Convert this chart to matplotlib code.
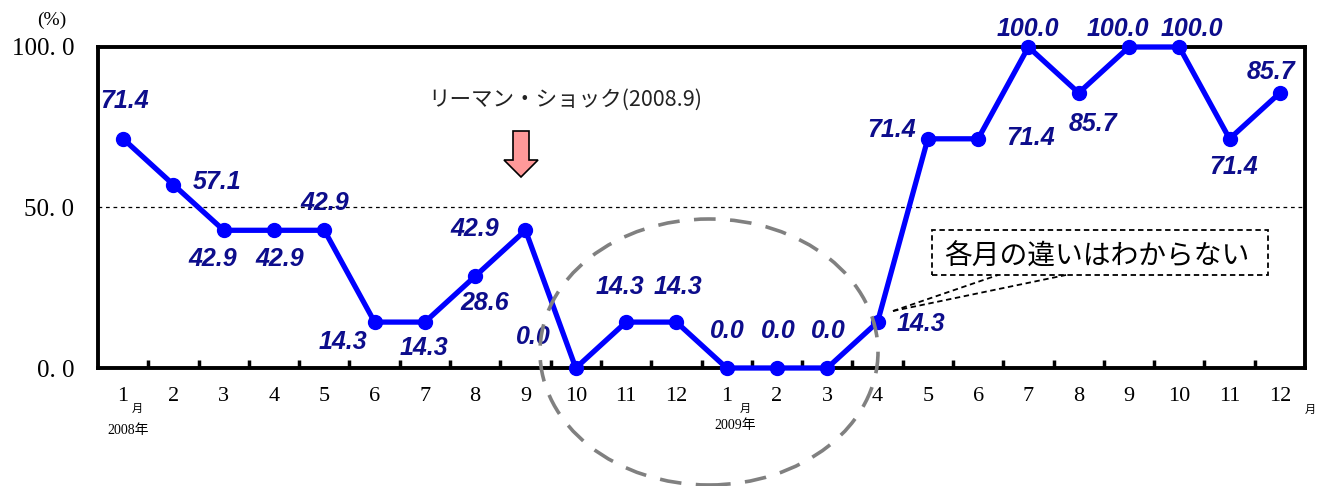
import matplotlib
matplotlib.use("Agg")
import matplotlib.pyplot as plt
from matplotlib.patches import Ellipse, Rectangle, Polygon
import numpy as np

months = ["1", "2", "3", "4", "5", "6", "7", "8", "9", "10", "11", "12",
          "1", "2", "3", "4", "5", "6", "7", "8", "9", "10", "11", "12"]
values = [71.4, 57.1, 42.9, 42.9, 42.9, 14.3, 14.3, 28.6, 42.9, 0.0, 14.3, 14.3,
          0.0, 0.0, 0.0, 14.3, 71.4, 71.4, 100.0, 85.7, 100.0, 100.0, 71.4, 85.7]
yticks = [0, 50, 100]
ytick_labels = ["0. 0", "50. 0", "100. 0"]

# label offsets in pixels (dx, dy; dy positive = up) relative to each point
offsets = [(1, 38), (44, 3), (-11, -29), (6, -29), (0, 27), (-32, -20), (-1, -26), (10, -27),
           (-51, 1), (-42, 31), (-6, 35), (2, 35), (1, 37), (1, 37), (1, 37), (43, -2),
           (-36, 9), (52, 1), (-1, 18), (14, -31), (-11, 18), (13, 18), (4, -28), (-9, 21)]

fig = plt.figure(figsize=(13.25, 4.86), dpi=100)
W, H = 1325, 486
left, right, top, bottom = 98, 1305, 47, 368
ax = fig.add_axes([left / W, 1 - bottom / H, (right - left) / W, (bottom - top) / H])

x = np.arange(len(values))
ax.plot(x, values, color="#0000FF", lw=3.8, marker="o", ms=10, zorder=5, clip_on=False)
ax.set_xlim(-0.5, len(values) - 0.5)
ax.set_ylim(0, 100)

ax.axhline(50, color="black", lw=0.9, ls=(0, (3, 3)), zorder=1)

for s in ax.spines.values():
    s.set_linewidth(2.8)

serif = ["Liberation Serif", "DejaVu Serif"]
ax.set_yticks(yticks)
ax.set_yticklabels(ytick_labels, family=serif, fontsize=18)
ax.tick_params(axis="y", length=0, pad=17)
ax.set_xticks(x)
ax.set_xticklabels(months, family=serif, fontsize=16)
ax.tick_params(axis="x", which="major", length=0, pad=14)
ax.set_xticks(np.arange(0.5, len(values) - 1, 1), minor=True)
ax.tick_params(axis="x", which="minor", direction="in", length=6, width=2.5)

px = 72 / 100
for i, v in enumerate(values):
    dx, dy = offsets[i]
    ax.annotate(f"{v:.1f}", (i, v), xytext=(dx * px, dy * px), textcoords="offset points",
                ha="center", va="center", fontsize=18, fontweight="bold", fontstyle="italic",
                color="#0D0D8C", family=["Liberation Sans", "DejaVu Sans"],
                zorder=6, annotation_clip=False)

cjk = ["Noto Sans CJK JP", "DejaVu Sans"]
def fx(p):
    return p / W
def fy(p):
    return 1 - p / H

fig.text(fx(52), fy(20), "(%)", family=serif, fontsize=14, ha="center", va="center")
fig.text(fx(137), fy(409), "月", family=cjk, fontsize=8, ha="center", va="center")
fig.text(fx(128), fy(430), "2008年", family=["Liberation Serif", "Noto Sans CJK JP"],
         fontsize=10, ha="center", va="center")
fig.text(fx(745), fy(409), "月", family=cjk, fontsize=8, ha="center", va="center")
fig.text(fx(735), fy(425), "2009年", family=["Liberation Serif", "Noto Sans CJK JP"],
         fontsize=10, ha="center", va="center")
fig.text(fx(1310), fy(410), "月", family=cjk, fontsize=8, ha="center", va="center")

fig.text(fx(565), fy(100), "リーマン・ショック(2008.9)", family=cjk, fontsize=15.5,
         ha="center", va="center", color="#222222")

# block arrow (pixel coordinates)
ax_cx, y0, y1, yh = 521, 131, 177, 160
sw, hw = 8, 17
pts = [(ax_cx - sw, y0), (ax_cx + sw, y0), (ax_cx + sw, yh), (ax_cx + hw, yh),
       (ax_cx, y1), (ax_cx - hw, yh), (ax_cx - sw, yh)]
arr = Polygon([(fx(a), fy(b)) for a, b in pts], closed=True, transform=fig.transFigure,
              facecolor="#FF9999", edgecolor="black", lw=1.2)
fig.add_artist(arr)

# ellipse
ell = Ellipse((fx(709), fy(352)), 338 / W, 266 / H, transform=fig.transFigure,
              fill=False, edgecolor="#808080", lw=2.6, ls=(0, (6, 4)), zorder=10)
fig.add_artist(ell)

# callout box
rect = Rectangle((fx(932), fy(275)), (1268 - 932) / W, (275 - 230) / H, transform=fig.transFigure,
                 fill=True, facecolor="white", edgecolor="black", lw=1.3, ls=(0, (3, 2)), zorder=11)
fig.add_artist(rect)
fig.text(fx(1097), fy(257), "各月の違いはわからない", family=cjk, fontsize=20,
         ha="center", va="center", zorder=12)
for ex in (998, 1066):
    ln = plt.Line2D([fx(893), fx(ex)], [fy(311), fy(275)], transform=fig.transFigure,
                    color="black", lw=1.3, ls=(0, (3, 2)), zorder=11)
    fig.add_artist(ln)

fig.savefig("out.png", dpi=100)
